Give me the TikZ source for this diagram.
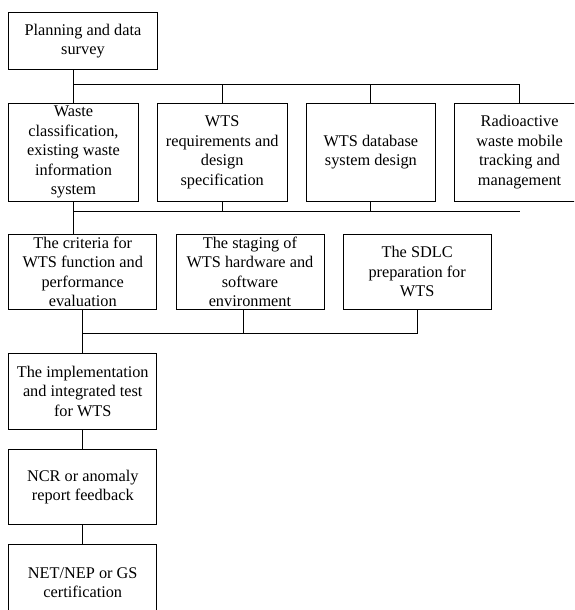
\documentclass[tikz,border=0pt]{standalone}
\usepackage{fontspec}
\setmainfont{Liberation Serif}
\usetikzlibrary{positioning,calc}

\begin{document}
\begin{tikzpicture}[
  x=1pt, y=-1pt,
  box/.style={draw, rectangle, inner sep=0pt, align=center, line width=0.9pt,
              font=\fontsize{16.3}{19.6}\selectfont},
  toprow/.style={box, minimum width=148.4pt, minimum height=57pt},
  midrow/.style={box, minimum width=129.5pt, minimum height=98.3pt},
  lowrow/.style={box, minimum width=148pt, minimum height=75.8pt},
  link/.style={line width=0.9pt},
  node distance=18.3pt
]
  \useasboundingbox (0,0) rectangle (574,610);
  \clip (0,0) rectangle (574,610);

  \node[toprow, anchor=north west] (plan) at (8.3,12.3)
    {Planning and data\\survey};

  %% design tasks
  \node[midrow, below=32.4pt of plan.south west, anchor=north west] (waste)
    {Waste\\classification,\\existing waste\\information\\system};
  \node[midrow, right=of waste] (req)
    {WTS\\requirements and\\design\\specification};
  \node[midrow, right=of req] (db)
    {WTS database\\system design};
  \node[midrow, right=of db] (radio)
    {Radioactive\\waste mobile\\tracking and\\management};

  %% preparation tasks
  \node[lowrow, below=31.7pt of waste.south west, anchor=north west] (crit)
    {The criteria for\\WTS function and\\performance\\evaluation};
  \node[lowrow, right=of crit] (stage)
    {The staging of\\WTS hardware and\\software\\environment};
  \node[lowrow, right=of stage] (sdlc)
    {The SDLC\\preparation for\\WTS};

  %% test and certification
  \node[lowrow, below=42.7pt of crit] (impl)
    {The implementation\\and integrated test\\for WTS};
  \node[lowrow, below=19pt of impl] (ncr)
    {NCR or anomaly\\report feedback};
  \node[lowrow, below=19pt of ncr] (cert)
    {NET/NEP or GS\\certification};

  \coordinate (tbar) at ($(plan.south)+(0,14)$);
  \coordinate (mbar) at ($(waste.south)+(0,10)$);
  \coordinate (lbar) at ($(crit.south)+(0,23.4)$);
  \coordinate (sdrop) at ([xshift=-6.7pt]stage.south);

  %% planning -> design tasks
  \draw[link] (plan.south -| waste.north) -- (waste.north);
  \draw[link] (tbar -| waste.north) -- (tbar -| radio.north) -- (radio.north);
  \draw[link] (tbar -| req.north) -- (req.north);
  \draw[link] (tbar -| db.north) -- (db.north);

  %% design tasks -> preparation tasks
  \draw[link] (waste.south) -- (waste.south |- crit.north);
  \draw[link] (mbar -| waste.south) -- (mbar -| radio.south);
  \draw[link] (req.south) -- (req.south |- mbar);
  \draw[link] (db.south) -- (db.south |- mbar);

  %% preparation tasks -> implementation
  \draw[link] (crit.south) -- (impl.north);
  \draw[link] (lbar -| crit.south) -- (lbar -| sdlc.south) -- (sdlc.south);
  \draw[link] (sdrop) -- (sdrop |- lbar);

  \draw[link] (impl) -- (ncr);
  \draw[link] (ncr) -- (cert);
\end{tikzpicture}
\end{document}
